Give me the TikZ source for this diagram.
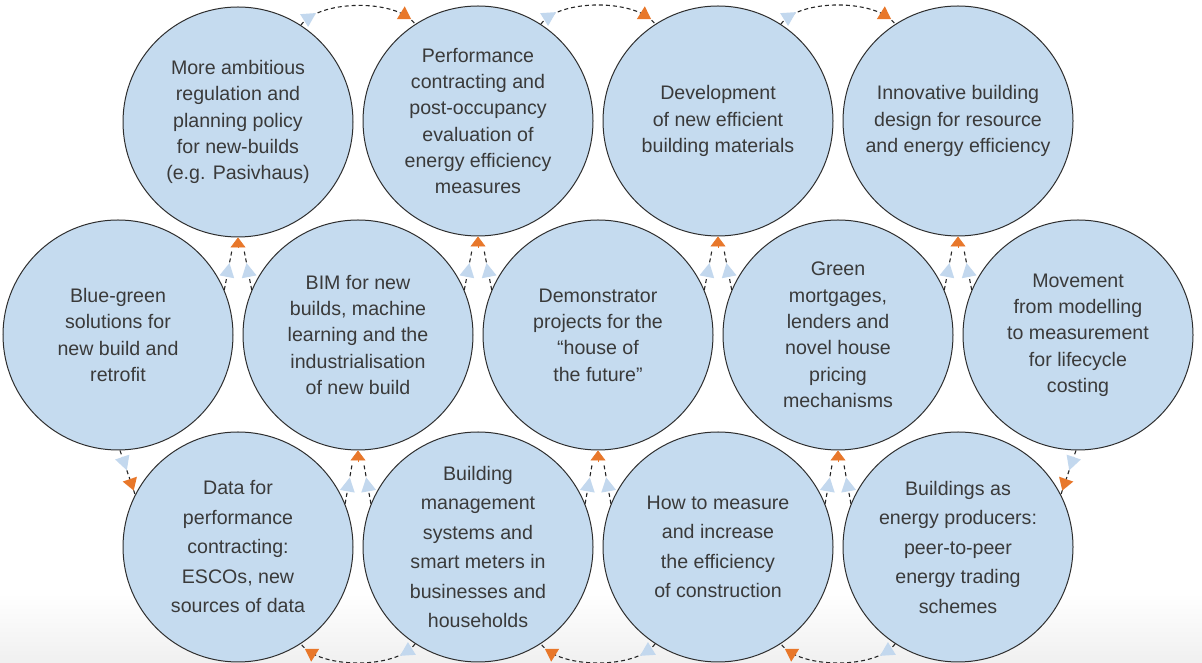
\documentclass[tikz,border=0pt]{standalone}
\usepackage{fontspec}
\setmainfont{Liberation Sans}
\usetikzlibrary{arrows.meta,decorations.markings}
\definecolor{cfill}{HTML}{C5DBEF}
\definecolor{lbc}{HTML}{C3D8EE}
\definecolor{orc}{HTML}{E8772A}
\definecolor{txt}{HTML}{3A3A3A}
\definecolor{edgec}{HTML}{2E2E2E}
\tikzset{
  bub/.style={circle, draw=edgec, line width=1pt, fill=cfill, minimum size=230pt, inner sep=0pt,
    align=center, text=txt, font=\fontsize{19.6}{26.3}\selectfont},
  bubb/.style={bub, font=\fontsize{19.6}{29.5}\selectfont},
  link/.style={draw=black!85, line width=1.1pt, dash pattern=on 4pt off 3pt},
  twomarks/.style 2 args={postaction={decorate,decoration={markings,
     mark=at position #1 with {\fill[lbc] (7,0) -- (-7,7.5) -- (-7,-7.5) -- cycle;},
     mark=at position #2 with {\fill[orc] (6,0) -- (-6,7.5) -- (-6,-7.5) -- cycle;}}}},
  lbm/.style={postaction={decorate,decoration={markings,
     mark=at position #1 with {\fill[lbc] (7,0) -- (-7,7.5) -- (-7,-7.5) -- cycle;}}}},
  otip/.style={draw=orc, line width=0.6pt, -{Triangle[width=15pt,length=10pt]}}
}
\begin{document}
\begin{tikzpicture}[x=1pt,y=1pt]
\useasboundingbox (0,0) rectangle (1202,663);
\fill[white] (0,0) rectangle (1202,663);
\shade[top color=white,bottom color=black!6] (0,0) rectangle (1202,70);

% top row
\node[bub] (t1) at (238,541) {More ambitious\\regulation and\\planning policy\\for new-builds\\(e.g. Pasivhaus)};
\node[bub] (t2) at (478,542) {Performance\\contracting and\\post-occupancy\\evaluation of\\energy efficiency\\measures};
\node[bub] (t3) at (718,542) {Development\\of new efficient\\building materials};
\node[bub] (t4) at (958,542) {Innovative building\\design for resource\\and energy efficiency};
% middle row
\node[bub] (m1) at (118,328) {Blue-green\\solutions for\\new build and\\retrofit};
\node[bub] (m2) at (358,328) {BIM for new\\builds, machine\\learning and the\\industrialisation\\of new build};
\node[bub] (m3) at (598,328) {Demonstrator\\projects for the\\“house of\\the future”};
\node[bub] (m4) at (838,328) {Green\\mortgages,\\lenders and\\novel house\\pricing\\mechanisms};
\node[bub] (m5) at (1078,328) {Movement\\from modelling\\to measurement\\for lifecycle\\costing};
% bottom row
\node[bubb] (b1) at (238,116) {Data for\\performance\\contracting:\\ESCOs, new\\sources of data};
\node[bubb] (b2) at (478,116) {Building\\management\\systems and\\smart meters in\\businesses and\\households};
\node[bubb] (b3) at (718,116) {How to measure\\and increase\\the efficiency\\of construction};
\node[bubb] (b4) at (958,116) {Buildings as\\energy producers:\\peer-to-peer\\energy trading\\schemes};

% top arcs
\draw[link, twomarks={0.1}{0.9}] (t1.57) to[out=55,in=125,looseness=0.7] (t2.123);
\draw[link, twomarks={0.1}{0.9}] (t2.57) to[out=55,in=125,looseness=0.7] (t3.123);
\draw[link, twomarks={0.1}{0.9}] (t3.57) to[out=55,in=125,looseness=0.7] (t4.123);
% bottom arcs
\draw[link, twomarks={0.1}{0.9}] (b2.237) to[out=235,in=305,looseness=0.7] (b1.303);
\draw[link, twomarks={0.1}{0.9}] (b3.237) to[out=235,in=305,looseness=0.7] (b2.303);
\draw[link, twomarks={0.1}{0.9}] (b4.237) to[out=235,in=305,looseness=0.7] (b3.303);

% Y connectors middle -> top
\foreach \i/\l/\r/\x in {1/m1/m2/238, 2/m2/m3/478, 3/m3/m4/718, 4/m4/m5/958}{
  \coordinate (ytl\i) at (\x-6,413);
  \coordinate (ytr\i) at (\x+6,413);
  \coordinate (ytc\i) at (\x,415);
  \draw[link, lbm=0.5] (\l.23) -- (ytl\i);
  \draw[link, lbm=0.5] (\r.157) -- (ytr\i);
  \draw[otip] (ytc\i) -- (t\i.south);
}
% Y connectors bottom -> middle
\foreach \i/\l/\r/\t/\x in {1/b1/b2/m2/358, 2/b2/b3/m3/598, 3/b3/b4/m4/838}{
  \coordinate (ybl\i) at (\x-6,198);
  \coordinate (ybr\i) at (\x+6,198);
  \coordinate (ybc\i) at (\x,200.5);
  \draw[link, lbm=0.5] (\l.22) -- (ybl\i);
  \draw[link, lbm=0.5] (\r.158) -- (ybr\i);
  \draw[otip] (ybc\i) -- (\t.south);
}
% side connectors
\draw[link, twomarks={0.3}{0.78}] (m1.-89) -- (b1.153);
\draw[link, twomarks={0.3}{0.78}] (m5.-91) -- (b4.27);
\end{tikzpicture}
\end{document}
